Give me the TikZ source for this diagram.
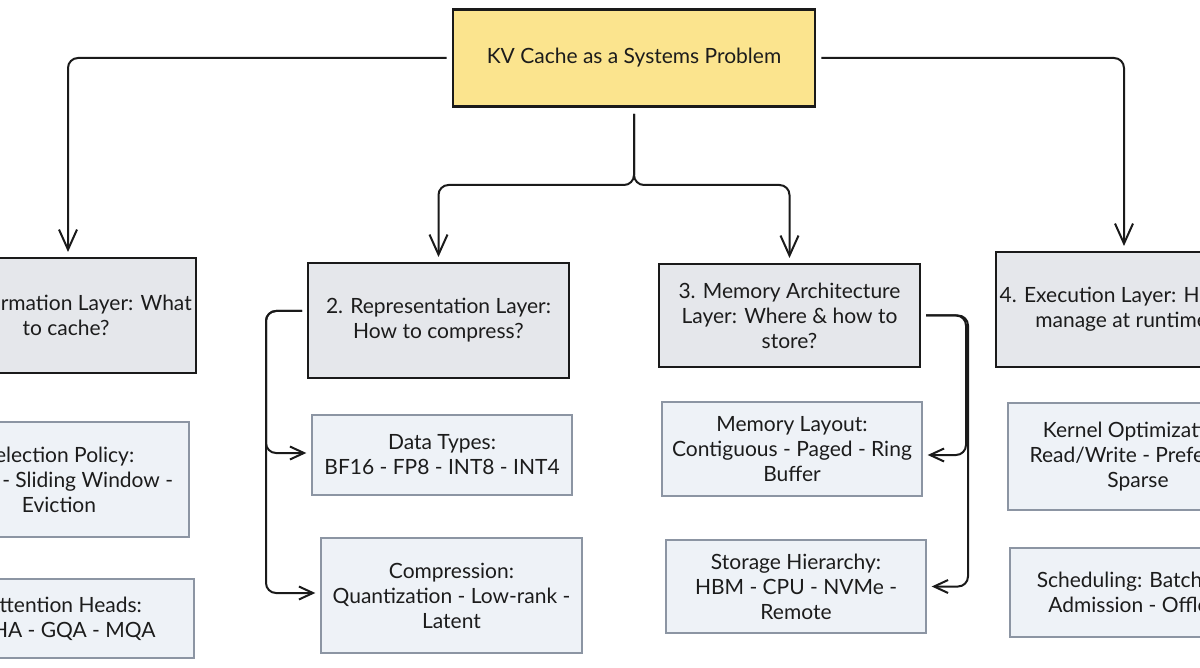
\documentclass[tikz,border=0pt]{standalone}
\usepackage{fontspec}
\setmainfont{Lato}
\usetikzlibrary{arrows.meta}
\definecolor{ink}{HTML}{1A1A1A}
\definecolor{txt}{HTML}{1C1C1C}
\definecolor{yellowfill}{HTML}{FBE48E}
\definecolor{layerfill}{HTML}{E5E7EB}
\definecolor{itemfill}{HTML}{EEF2F7}
\definecolor{itemborder}{HTML}{8C95A3}
\begin{document}
\begin{tikzpicture}[x=1pt,y=-1pt,
  every node/.style={font=\fontsize{21}{25}\selectfont, text=txt, align=center, inner sep=0pt},
  mainbox/.style={draw=ink, line width=2.8pt, fill=yellowfill, minimum width=362pt, minimum height=97pt},
  layerbox/.style={draw=ink, line width=2pt, fill=layerfill, minimum width=260pt, minimum height=115pt},
  itembox/.style={draw=itemborder, line width=1.4pt, fill=itemfill, minimum width=260pt},
  conn/.style={draw=ink, line width=2pt, rounded corners=10pt},
  bigtip/.style={-{Straight Barb[length=20pt,width=18pt]}},
  smalltip/.style={-{Straight Barb[length=14pt,width=13pt]}}]
\path[use as bounding box, clip] (0,0) rectangle (1200,668);
\fill[white] (0,0) rectangle (1200,668);

\node[mainbox] (top) at (634,58) {KV Cache as a Systems Problem};

\node[layerbox] (l1) at (66,315.5) {1. Information Layer: What\\to cache?};
\node[layerbox, minimum width=261pt] (l2) at (438.5,320.5) {2. Representation Layer:\\How to compress?};
\node[layerbox, minimum width=261pt, minimum height=103pt] (l3) at (789.5,315.5) {3. Memory Architecture\\Layer: Where \& how to\\store?};
\node[layerbox] (l4) at (1126,309.5) {4. Execution Layer: How to\\manage at runtime?};

\node[itembox, minimum height=115pt] (s1) at (59,479.5) {Selection Policy:\\Top-k - Sliding Window -\\Eviction};
\node[itembox, minimum height=79pt] (s2) at (64,618.5) {Attention Heads:\\MHA - GQA - MQA};
\node[itembox, minimum height=80pt] (r1) at (442,455) {Data Types:\\BF16 - FP8 - INT8 - INT4};
\node[itembox, minimum width=261pt, minimum height=115pt] (r2) at (451.5,595.5) {Compression:\\Quantization - Low-rank -\\Latent};
\node[itembox, minimum height=94pt] (m1) at (792,449) {Memory Layout:\\Contiguous - Paged - Ring\\Buffer};
\node[itembox, minimum height=93pt] (m2) at (796,586.5) {Storage Hierarchy:\\HBM - CPU - NVMe -\\Remote};
\node[itembox, minimum height=107pt] (e1) at (1138,456.5) {Kernel Optimization:\\Read/Write - Prefetch -\\Sparse};
\node[itembox, minimum height=89pt] (e2) at (1140,592.5) {Scheduling: Batching -\\Admission - Offload};

\coordinate (split) at (634,185);

\draw[conn, bigtip] ([xshift=-5pt]top.west) -| ([xshift=2pt,yshift=5pt]l1.north);
\draw[conn, bigtip] ([xshift=5pt]top.east) -| ([xshift=-2pt,yshift=5pt]l4.north);
\draw[conn, bigtip] ([yshift=-6pt]top.south) -- (split) -| ([yshift=5pt]l2.north);
\draw[conn, bigtip] ([yshift=-6pt]top.south) -- (split) -| ([yshift=5pt]l3.north);

\draw[conn, smalltip] ([xshift=-5pt,yshift=9.5pt]l2.west) -- ++(-36,0) |- ([xshift=-5pt,yshift=2pt]r1.west);
\draw[conn, smalltip] ([xshift=-5pt,yshift=9.5pt]l2.west) -- ++(-36,0) |- ([xshift=-5pt,yshift=2.5pt]r2.west);

\draw[conn, smalltip] ([xshift=5pt]l3.east) -- ++(40,0) |- ([xshift=5pt,yshift=-6pt]m1.east);
\draw[conn, smalltip] ([xshift=5pt]l3.east) -- ++(42,0) |- ([xshift=5pt]m2.east);
\end{tikzpicture}
\end{document}
